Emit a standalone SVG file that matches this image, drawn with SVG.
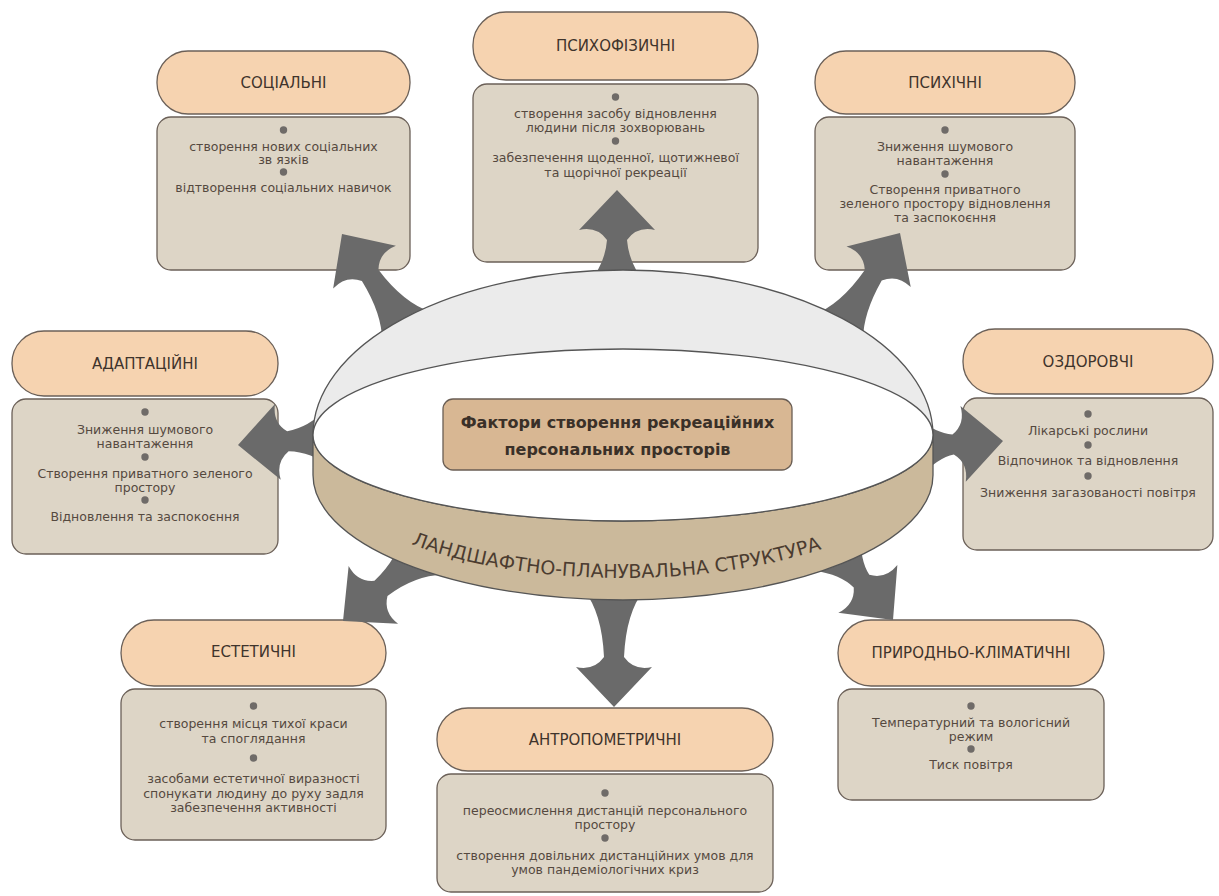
<svg xmlns="http://www.w3.org/2000/svg" width="1219" height="896" viewBox="0 0 1219 896">
<defs>
<style>
.hdr{fill:#f6d3b0;stroke:#6b6058;stroke-width:1.3}
.body{fill:#ddd5c6;stroke:#6b6058;stroke-width:1.3}
.h{font-family:"DejaVu Sans",sans-serif;font-size:15px;fill:#3f342c;text-anchor:middle;dominant-baseline:central}
.t{font-family:"DejaVu Sans",sans-serif;font-size:12.5px;fill:#55493f;text-anchor:middle;dominant-baseline:central}
.dot{fill:#6f6b68}
.arr{fill:#6a6a6a}
.ring{stroke:#555;stroke-width:1.3}
.ct{font-family:"DejaVu Sans",sans-serif;font-size:16px;font-weight:bold;fill:#3a3028;text-anchor:middle;dominant-baseline:central}
.rt{font-family:"DejaVu Sans",sans-serif;font-size:19px;fill:#4b3c30}
</style>
<path id="ringTextPath" d="M323,462 A300,116 0 0 0 923,462"/>
</defs>
<rect width="1219" height="896" fill="#ffffff"/>

<g id="socialni">
<rect class="hdr" x="157" y="51" width="253" height="63" rx="31"/>
<text class="h" x="283.5" y="83">СОЦІАЛЬНІ</text>
<rect class="body" x="157" y="117" width="253" height="153" rx="14"/>
<circle class="dot" cx="283.5" cy="130" r="3.7"/>
<text class="t" x="283.5" y="146">створення нових соціальних</text>
<text class="t" x="283.5" y="159">зв язків</text>
<circle class="dot" cx="283.5" cy="172" r="3.7"/>
<text class="t" x="283.5" y="187">відтворення соціальних навичок</text>
</g>

<g id="psykhofizychni">
<rect class="hdr" x="473" y="12" width="285" height="68" rx="33"/>
<text class="h" x="615.5" y="46">ПСИХОФІЗИЧНІ</text>
<rect class="body" x="473" y="84" width="285" height="178" rx="14"/>
<circle class="dot" cx="615.5" cy="97" r="3.7"/>
<text class="t" x="615.5" y="113">створення засобу відновлення</text>
<text class="t" x="615.5" y="127">людини після зохворювань</text>
<circle class="dot" cx="615.5" cy="141" r="3.7"/>
<text class="t" x="615.5" y="157">забезпечення щоденної, щотижневої</text>
<text class="t" x="615.5" y="172">та щорічної рекреації</text>
</g>

<g id="psykhichni">
<rect class="hdr" x="815" y="51" width="260" height="63" rx="31"/>
<text class="h" x="945" y="83">ПСИХІЧНІ</text>
<rect class="body" x="815" y="117" width="260" height="153" rx="14"/>
<circle class="dot" cx="945" cy="130" r="3.7"/>
<text class="t" x="945" y="146">Зниження шумового</text>
<text class="t" x="945" y="160">навантаження</text>
<circle class="dot" cx="945" cy="174" r="3.7"/>
<text class="t" x="945" y="189">Створення приватного</text>
<text class="t" x="945" y="203">зеленого простору відновлення</text>
<text class="t" x="945" y="217">та заспокоєння</text>
</g>

<g id="adaptatsiini">
<rect class="hdr" x="12" y="331" width="266" height="65" rx="32"/>
<text class="h" x="145" y="364">АДАПТАЦІЙНІ</text>
<rect class="body" x="12" y="399" width="266" height="155" rx="14"/>
<circle class="dot" cx="145" cy="412" r="3.7"/>
<text class="t" x="145" y="429">Зниження шумового</text>
<text class="t" x="145" y="443">навантаження</text>
<circle class="dot" cx="145" cy="457" r="3.7"/>
<text class="t" x="145" y="473">Створення приватного зеленого</text>
<text class="t" x="145" y="487">простору</text>
<circle class="dot" cx="145" cy="500" r="3.7"/>
<text class="t" x="145" y="516">Відновлення та заспокоєння</text>
</g>

<g id="ozdorovchi">
<rect class="hdr" x="963" y="329" width="250" height="65" rx="32"/>
<text class="h" x="1088" y="362">ОЗДОРОВЧІ</text>
<rect class="body" x="963" y="398" width="250" height="152" rx="14"/>
<circle class="dot" cx="1088" cy="414" r="3.7"/>
<text class="t" x="1088" y="430">Лікарські рослини</text>
<circle class="dot" cx="1088" cy="445" r="3.7"/>
<text class="t" x="1088" y="460">Відпочинок та відновлення</text>
<circle class="dot" cx="1088" cy="476" r="3.7"/>
<text class="t" x="1088" y="492">Зниження загазованості повітря</text>
</g>

<g id="estetychni">
<rect class="hdr" x="121" y="620" width="265" height="66" rx="33"/>
<text class="h" x="253.5" y="652">ЕСТЕТИЧНІ</text>
<rect class="body" x="121" y="689" width="265" height="151" rx="14"/>
<circle class="dot" cx="253.5" cy="706" r="3.7"/>
<text class="t" x="253.5" y="723">створення місця тихої краси</text>
<text class="t" x="253.5" y="738">та споглядання</text>
<circle class="dot" cx="253.5" cy="758" r="3.7"/>
<text class="t" x="253.5" y="778">засобами естетичної виразності</text>
<text class="t" x="253.5" y="793">спонукати людину до руху задля</text>
<text class="t" x="253.5" y="807">забезпечення активності</text>
</g>

<g id="antropometrychni">
<rect class="hdr" x="437" y="708" width="336" height="63" rx="31"/>
<text class="h" x="605" y="740">АНТРОПОМЕТРИЧНІ</text>
<rect class="body" x="437" y="774" width="336" height="118" rx="14"/>
<circle class="dot" cx="605" cy="793" r="3.7"/>
<text class="t" x="605" y="810">переосмислення дистанцій персонального</text>
<text class="t" x="605" y="824">простору</text>
<circle class="dot" cx="605" cy="838" r="3.7"/>
<text class="t" x="605" y="855">створення довільних дистанційних умов для</text>
<text class="t" x="605" y="869">умов пандеміологічних криз</text>
</g>

<g id="pryrodno-klimatychni">
<rect class="hdr" x="838" y="620" width="266" height="66" rx="33"/>
<text class="h" x="971" y="653">ПРИРОДНЬО-КЛІМАТИЧНІ</text>
<rect class="body" x="838" y="689" width="266" height="111" rx="14"/>
<circle class="dot" cx="971" cy="706" r="3.7"/>
<text class="t" x="971" y="722">Температурний та вологісний</text>
<text class="t" x="971" y="736">режим</text>
<circle class="dot" cx="971" cy="749" r="3.7"/>
<text class="t" x="971" y="764">Тиск повітря</text>
</g>

<g id="connectors">
<path class="arr" transform="translate(617,190) rotate(0)" d="M0,0 L38,40 Q20,36 10,50 Q12,75 30,95 L-30,95 Q-12,75 -10,50 Q-20,36 -38,40 Z"/>
<path class="arr" transform="translate(342,234) rotate(-34.3)" d="M0,0 L38,40 Q20,36 10,50 Q12,92 30,115 L-30,115 Q-12,92 -10,50 Q-20,36 -38,40 Z"/>
<path class="arr" transform="translate(900,233) rotate(32.3)" d="M0,0 L38,40 Q20,36 10,50 Q12,93 30,116 L-30,116 Q-12,93 -10,50 Q-20,36 -38,40 Z"/>
<path class="arr" transform="translate(238,445) rotate(-94.35)" d="M0,0 L38,40 Q20,36 10,50 Q12,72 30,92 L-30,92 Q-12,72 -10,50 Q-20,36 -38,40 Z"/>
<path class="arr" transform="translate(1003,441) rotate(85.96)" d="M0,0 L38,40 Q20,36 10,50 Q12,66 30,85 L-30,85 Q-12,66 -10,50 Q-20,36 -38,40 Z"/>
<path class="arr" transform="translate(343,621) rotate(-130.6)" d="M0,0 L38,40 Q20,36 10,50 Q12,84 30,106 L-30,106 Q-12,84 -10,50 Q-20,36 -38,40 Z"/>
<path class="arr" transform="translate(614,707) rotate(180)" d="M0,0 L38,40 Q20,36 10,50 Q12,94 30,117 L-30,117 Q-12,94 -10,50 Q-20,36 -38,40 Z"/>
<path class="arr" transform="translate(893,620) rotate(141)" d="M0,0 L38,40 Q20,36 10,50 Q12,68 30,88 L-30,88 Q-12,68 -10,50 Q-20,36 -38,40 Z"/>
</g>

<g id="ring">
<path class="ring" fill="#ebebeb" d="M313,435 A310,165 0 0 1 933,435 Z"/>
<path class="ring" fill="#cbb99b" d="M313,435 L313,475 A310,125 0 0 0 933,475 L933,435 A310,86 0 0 1 313,435 Z"/>
<ellipse class="ring" fill="#ffffff" cx="623" cy="435" rx="310" ry="86"/>
<text class="rt"><textPath href="#ringTextPath" startOffset="49%" text-anchor="middle">ЛАНДШАФТНО-ПЛАНУВАЛЬНА СТРУКТУРА</textPath></text>
</g>

<g id="center">
<rect x="443" y="399" width="349" height="71" rx="10" fill="#d8b793" stroke="#6a5e54" stroke-width="1.3"/>
<text class="ct" x="617.5" y="422">Фактори створення рекреаційних</text>
<text class="ct" x="617.5" y="449">персональних просторів</text>
</g>
</svg>
